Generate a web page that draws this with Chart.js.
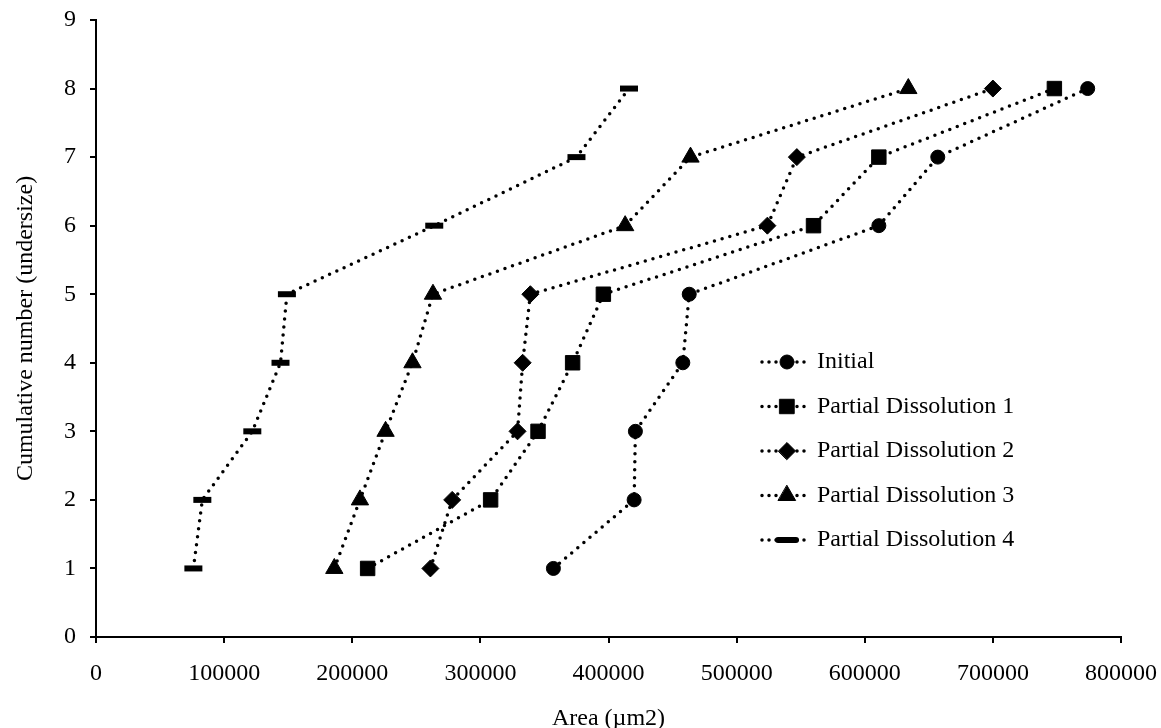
<!DOCTYPE html>
<html>
<head>
<meta charset="utf-8">
<title>Cumulative number vs area</title>
<script src="https://cdn.jsdelivr.net/npm/chart.js@4.4.1/dist/chart.umd.min.js"></script>
<style>
  html, body { margin: 0; padding: 0; background: #fff; }
  #wrap { width: 1161px; height: 728px; position: relative; }
</style>
</head>
<body>
<div id="wrap"><canvas id="areaChart"></canvas></div>
<script>
// cumulative count (undersize) for each sample
const counts = [1, 2, 3, 4, 5, 6, 7, 8];

// particle areas in µm2, sorted ascending
const initialArea = [357000, 420000, 421000, 458000, 463000, 611000, 657000, 774000];
const dissolution1Area = [212000, 308000, 345000, 372000, 396000, 560000, 611000, 748000];
const dissolution2Area = [261000, 278000, 329000, 333000, 339000, 524000, 547000, 700000];
const dissolution3Area = [186000, 206000, 226000, 247000, 263000, 413000, 464000, 634000];
const dissolution4Area = [76000, 83000, 122000, 144000, 149000, 264000, 375000, 416000];

const seriesNames = [
  "Initial",
  "Partial Dissolution 1",
  "Partial Dissolution 2",
  "Partial Dissolution 3",
  "Partial Dissolution 4",
];
const seriesAreas = [initialArea, dissolution1Area, dissolution2Area, dissolution3Area, dissolution4Area];

const xTicks = [0, 100000, 200000, 300000, 400000, 500000, 600000, 700000, 800000];
const yTicks = [0, 1, 2, 3, 4, 5, 6, 7, 8, 9];

const FONT = "'Liberation Serif', 'Times New Roman', serif";
const FONT_SIZE = 24;
const DOTS = [0, 8];

// marker look per series
const markers = [
  { pointStyle: "circle", radius: 7, borderWidth: 1 },
  { pointStyle: "rect", radius: 10.2, borderWidth: 1 },
  { pointStyle: "rectRot", radius: 8.5, borderWidth: 1 },
  { pointStyle: "triangle", radius: 10, borderWidth: 1 },
  { pointStyle: "line", radius: 9, borderWidth: 6 },
];

const datasets = seriesNames.map((name, i) => ({
  label: name,
  data: seriesAreas[i].map((a, k) => ({ x: a, y: counts[k] })),
  borderColor: "#000",
  backgroundColor: "#000",
  borderWidth: 3.5,
  borderDash: DOTS,
  borderCapStyle: "round",
  pointStyle: markers[i].pointStyle,
  pointRadius: markers[i].radius,
  pointBorderWidth: markers[i].borderWidth,
  pointBackgroundColor: "#000",
  pointBorderColor: "#000",
  tension: 0,
}));

// legend drawn inside the plot: dotted stub + marker + name
const insideLegend = {
  id: "insideLegend",
  afterDraw(chart) {
    const ctx = chart.ctx;
    const lineX0 = 762, lineX1 = 806, markX = 787, textX = 817;
    const rowY0 = 362, rowGap = 44.5;
    seriesNames.forEach((name, i) => {
      const y = rowY0 + i * rowGap;
      ctx.save();
      ctx.strokeStyle = "#000";
      ctx.lineWidth = 3.5;
      ctx.lineCap = "round";
      ctx.setLineDash([0, 7]);
      ctx.beginPath();
      ctx.moveTo(lineX0, y);
      ctx.lineTo(lineX1, y);
      ctx.stroke();
      ctx.setLineDash([]);
      ctx.fillStyle = "#000";
      ctx.lineWidth = markers[i].borderWidth;
      Chart.helpers.drawPoint(ctx, {
        pointStyle: markers[i].pointStyle,
        radius: markers[i].radius,
        rotation: 0,
        borderWidth: markers[i].borderWidth,
      }, markX, y);
      ctx.font = FONT_SIZE + "px " + FONT;
      ctx.textBaseline = "middle";
      ctx.textAlign = "left";
      ctx.fillText(name, textX, y);
      ctx.restore();
    });
  },
};

const ctx = document.getElementById("areaChart").getContext("2d");
new Chart(ctx, {
  type: "line",
  data: { datasets },
  plugins: [insideLegend],
  options: {
    responsive: true,
    maintainAspectRatio: false,
    animation: false,
    layout: { padding: { top: 20, right: 40, left: 0, bottom: 0 } },
    plugins: {
      legend: { display: false },
      tooltip: { enabled: false },
    },
    scales: {
      x: {
        type: "linear",
        min: 0,
        max: 800000,
        afterBuildTicks: (scale) => { scale.ticks = xTicks.map((v) => ({ value: v })); },
        afterFit: (scale) => {
          scale.height = 91;
          scale.paddingLeft = 0;
          scale.paddingRight = 0;
        },
        border: { display: true, color: "#000", width: 2 },
        grid: { drawOnChartArea: false, drawTicks: true, tickLength: 6, color: "#000", lineWidth: 2 },
        ticks: {
          color: "#000",
          font: { family: FONT, size: FONT_SIZE },
          padding: 16,
          maxRotation: 0,
          callback: (v) => String(v),
        },
        title: {
          display: true,
          text: "Area (µm2)",
          color: "#000",
          font: { family: FONT, size: FONT_SIZE, lineHeight: 0.8 },
          padding: { top: 4, bottom: 0 },
        },
      },
      y: {
        type: "linear",
        min: 0,
        max: 9,
        afterBuildTicks: (scale) => { scale.ticks = yTicks.map((v) => ({ value: v })); },
        afterFit: (scale) => {
          scale.width = 96;
          scale.paddingTop = 0;
          scale.paddingBottom = 0;
        },
        border: { display: true, color: "#000", width: 2 },
        grid: { drawOnChartArea: false, drawTicks: true, tickLength: 6, color: "#000", lineWidth: 2 },
        ticks: {
          color: "#000",
          font: { family: FONT, size: FONT_SIZE },
          padding: 14,
        },
        title: {
          display: true,
          text: "Cumulative number (undersize)",
          color: "#000",
          font: { family: FONT, size: FONT_SIZE },
          padding: { top: 11, bottom: 0 },
        },
      },
    },
  },
});
</script>
</body>
</html>
